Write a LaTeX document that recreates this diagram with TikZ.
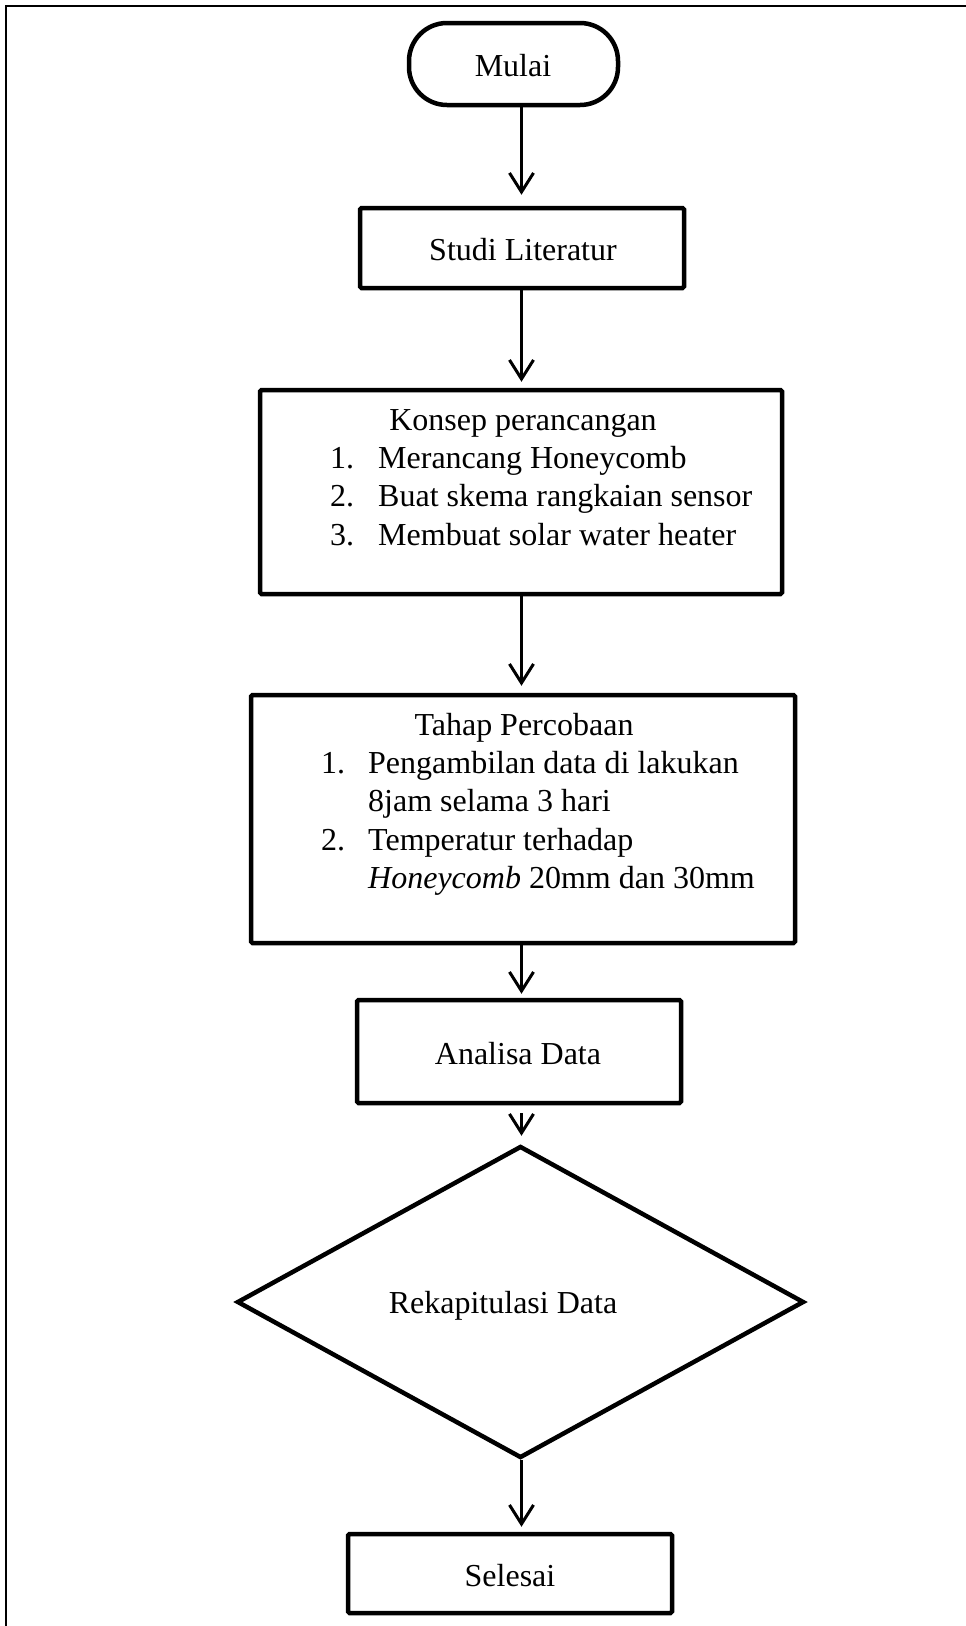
\documentclass[tikz,border=0pt]{standalone}
\usepackage{fontspec}
\setmainfont{Liberation Serif}
\usetikzlibrary{arrows.meta,shapes.geometric}
\tikzset{
  box/.style={draw, line width=4.5pt, rounded corners=1.5pt, inner sep=0pt},
  txt/.style={inner sep=0pt, font=\fontsize{32}{38}\selectfont},
  arr/.style={line width=3pt, -{Straight Barb[length=19pt,width=24pt,line width=3pt]}},
  frameline/.style={line width=2pt},
}
\begin{document}
\begin{tikzpicture}[x=1pt,y=-1pt]
\useasboundingbox (0,0) rectangle (966,1626);
% frame
\coordinate (fbl) at (6,1626);
\coordinate (ftl) at (6,6);
\coordinate (ftr) at (966,6);
\draw[frameline] (fbl) -- (ftl) -- (ftr);
% axis for connectors
\coordinate (ax) at (521.5,0);
% nodes
\node[box, rounded corners=38pt, minimum width=209pt, minimum height=82pt] (mulai) at (513.5,64) {};
\node[txt, anchor=base] (mulaiT) at (513,76) {Mulai};

\node[box, minimum width=324pt, minimum height=80pt] (studi) at (522,248) {};
\node[txt, anchor=base] (studiT) at (523,260) {Studi Literatur};

\node[box, minimum width=522pt, minimum height=204pt] (konsep) at (521,492) {};
\node[txt, anchor=base] (konsepT) at (523,430) {Konsep perancangan};
\node[txt, anchor=base west] (k1n) at (330,468.3) {1.};
\node[txt, anchor=base west] (k1) at (378,468.3) {Merancang Honeycomb};
\node[txt, anchor=base west] (k2n) at (330,506.6) {2.};
\node[txt, anchor=base west] (k2) at (378,506.6) {Buat skema rangkaian sensor};
\node[txt, anchor=base west] (k3n) at (330,545) {3.};
\node[txt, anchor=base west] (k3) at (378,545) {Membuat solar water heater};

\node[box, minimum width=544pt, minimum height=248pt] (tahap) at (523,819) {};
\node[txt, anchor=base] (tahapT) at (524,735) {Tahap Percobaan};
\node[txt, anchor=base west] (t1n) at (321,773.3) {1.};
\node[txt, anchor=base west] (t1) at (368,773.3) {Pengambilan data di lakukan};
\node[txt, anchor=base west] (t1b) at (368,811.6) {8jam selama 3 hari};
\node[txt, anchor=base west] (t2n) at (321,850) {2.};
\node[txt, anchor=base west] (t2) at (368,850) {Temperatur terhadap};
\node[txt, anchor=base west] (t2b) at (368,888.3) {\textit{Honeycomb} 20mm dan 30mm};

\node[box, minimum width=324pt, minimum height=103pt] (analisa) at (519,1051.5) {};
\node[txt, anchor=base] (analisaT) at (518,1064) {Analisa Data};

\node[draw, diamond, line width=4.5pt, inner sep=0pt, minimum width=567pt, minimum height=312pt] (rekap) at (520.5,1302) {};
\node[txt, anchor=base] (rekapT) at (503,1313) {Rekapitulasi Data};

\node[box, minimum width=324pt, minimum height=79pt] (selesai) at (510,1573.5) {};
\node[txt, anchor=base] (selesaiT) at (510,1586) {Selesai};

% connectors
\draw[arr, shorten >=11pt] (mulai.south -| ax) -- (studi.north -| ax);
\draw[arr, shorten >=6pt] (studi.south -| ax) -- (konsep.north -| ax);
\draw[arr, shorten >=7pt] (konsep.south -| ax) -- (tahap.north -| ax);
\draw[arr, shorten >=4pt] (tahap.south -| ax) -- (analisa.north -| ax);
\draw[arr, shorten <=8pt, shorten >=8pt] (analisa.south -| ax) -- (rekap.north -| ax);
\draw[arr, shorten >=5pt] (rekap.south -| ax) -- (selesai.north -| ax);
\end{tikzpicture}
\end{document}
